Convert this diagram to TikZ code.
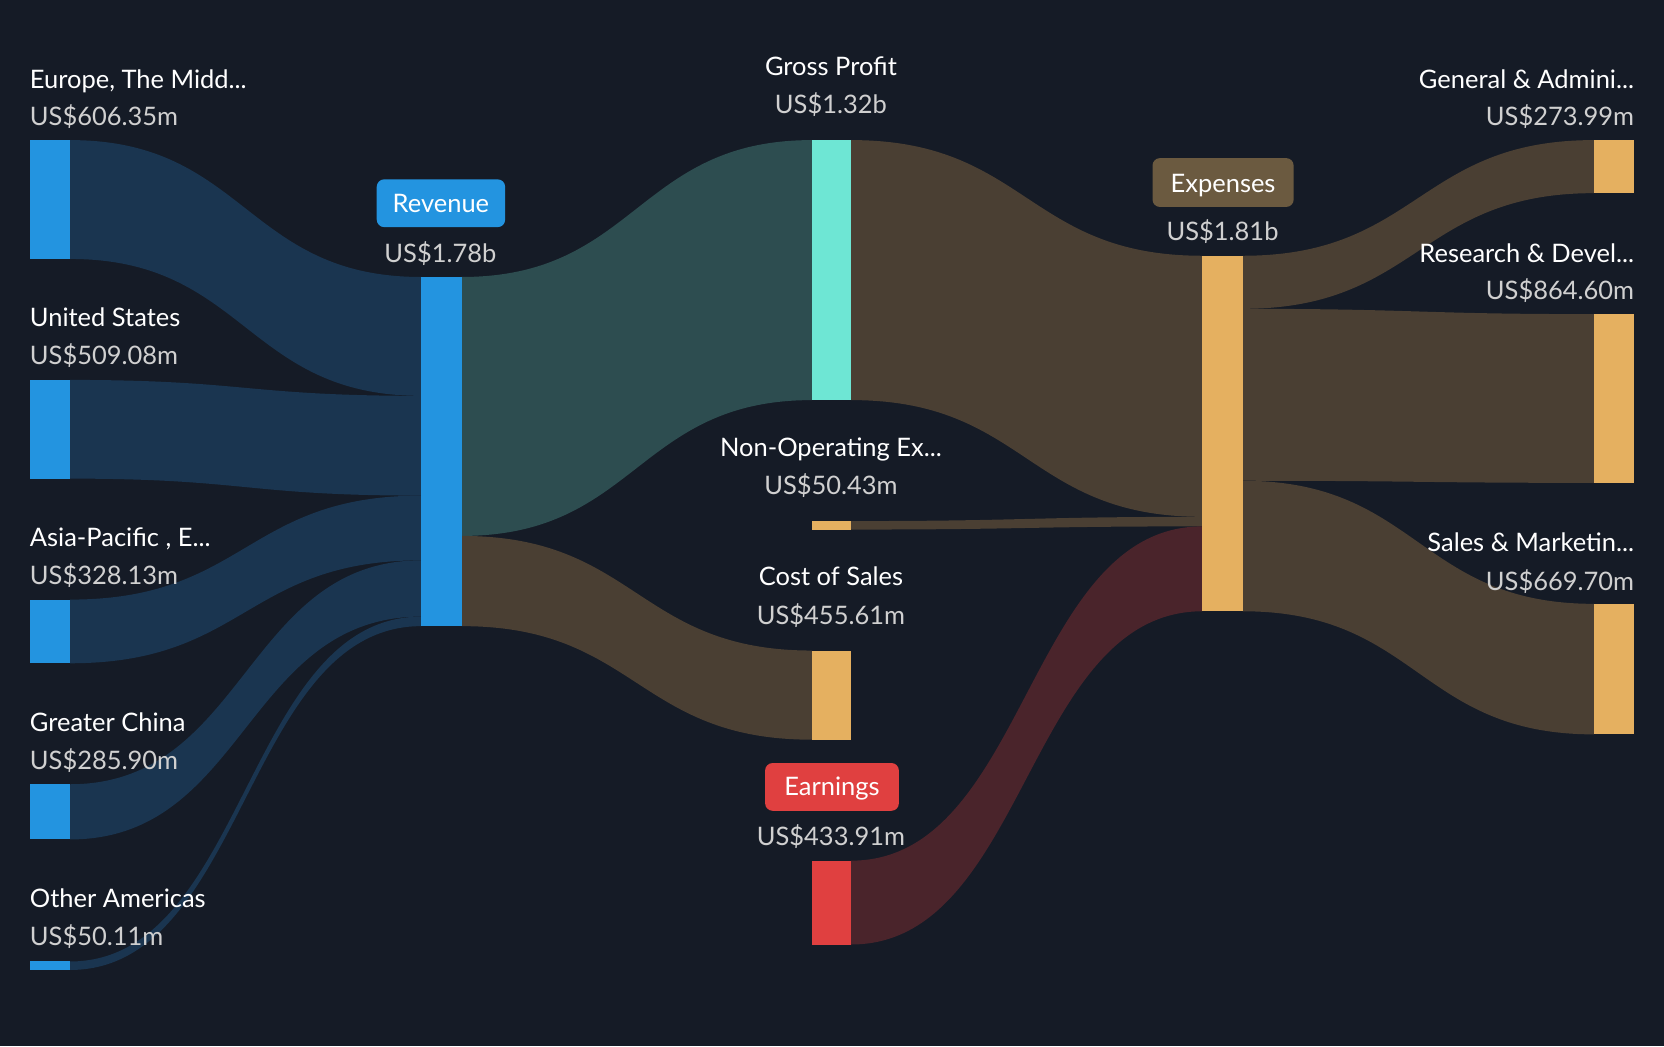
\documentclass[tikz,border=0pt]{standalone}
\usepackage{fontspec}
\setmainfont{Lato}
\definecolor{bg}{HTML}{151B26}
\definecolor{cblue}{HTML}{2394E0}
\definecolor{cteal}{HTML}{6EE6D4}
\definecolor{ctan}{HTML}{E5B060}
\definecolor{cred}{HTML}{E04040}
\definecolor{fblue}{HTML}{1A3550}
\definecolor{fteal}{HTML}{2D4D50}
\definecolor{fbrown}{HTML}{4A3F33}
\definecolor{fred}{HTML}{4A242B}
\definecolor{cbadge}{HTML}{6B5A40}
\definecolor{vgrey}{HTML}{D0D0D0}
\newcommand\myflow[7]{\fill[#1] (#2,#3) .. controls ({(#2+#5)/2},#3) and ({(#2+#5)/2},#6) .. (#5,#6) -- (#5,#7) .. controls ({(#2+#5)/2},#7) and ({(#2+#5)/2},#4) .. (#2,#4) -- cycle;}
\begin{document}
\begin{tikzpicture}[x=1pt,y=-1pt,
  lab/.style={font=\fontsize{24}{28}\selectfont, text=white, inner sep=0pt},
  val/.style={font=\fontsize{24}{28}\selectfont, text=vgrey, inner sep=0pt},
  badge/.style={font=\fontsize{24}{28}\selectfont, text=white, rounded corners=6pt, inner sep=0pt}]
\fill[bg] (0,0) rectangle (1568,986);
\useasboundingbox (0,0) rectangle (1568,986);
% flows
\myflow{fblue}{66}{132}{244}{397}{261}{373}
\myflow{fblue}{66}{358}{451}{397}{373}{467}
\myflow{fblue}{66}{565}{625}{397}{467}{528}
\myflow{fblue}{66}{739}{791}{397}{528}{581}
\myflow{fblue}{66}{906}{914}{397}{581}{590}
\myflow{fteal}{435}{261}{505}{765}{132}{377}
\myflow{fbrown}{435}{505}{590}{765}{613}{697}
\myflow{fbrown}{802}{132}{377}{1133}{241}{487}
\myflow{fbrown}{802}{491}{499}{1133}{487}{496}
\myflow{fred}{802}{811}{890}{1133}{496}{576}
\myflow{fbrown}{1171}{241}{291}{1502}{132}{182}
\myflow{fbrown}{1171}{291}{453}{1502}{296}{455}
\myflow{fbrown}{1171}{453}{576}{1502}{569}{692}
% bars
\fill[cblue] (28,132) rectangle (66,244);
\fill[cblue] (28,358) rectangle (66,451);
\fill[cblue] (28,565) rectangle (66,625);
\fill[cblue] (28,739) rectangle (66,791);
\fill[cblue] (28,906) rectangle (66,914);
\fill[cblue] (397,261) rectangle (435,590);
\fill[cteal] (765,132) rectangle (802,377);
\fill[ctan] (765,491) rectangle (802,499);
\fill[ctan] (765,613) rectangle (802,697);
\fill[cred] (765,811) rectangle (802,890);
\fill[ctan] (1133,241) rectangle (1171,576);
\fill[ctan] (1502,132) rectangle (1540,182);
\fill[ctan] (1502,296) rectangle (1540,455);
\fill[ctan] (1502,569) rectangle (1540,692);
% left labels
\node[lab,anchor=base west] (eu) at (28,83) {Europe, The Midd...};
\node[val,anchor=base west] (euv) at (28,118) {US\$606.35m};
\node[lab,anchor=base west] (us) at (28,308) {United States};
\node[val,anchor=base west] (usv) at (28,343) {US\$509.08m};
\node[lab,anchor=base west] (ap) at (28,515) {Asia-Pacific , E...};
\node[val,anchor=base west] (apv) at (28,551) {US\$328.13m};
\node[lab,anchor=base west] (gc) at (28,689) {Greater China};
\node[val,anchor=base west] (gcv) at (28,725) {US\$285.90m};
\node[lab,anchor=base west] (oa) at (28,855) {Other Americas};
\node[val,anchor=base west] (oav) at (28,891) {US\$50.11m};
% center labels
\fill[cblue,rounded corners=7pt] (355,169) rectangle (476,214);
\node[lab,anchor=base] (rev) at (415.5,200) {Revenue};
\node[val,anchor=base] (revv) at (415,247) {US\$1.78b};
\node[lab,anchor=base] (gp) at (783,71) {Gross Profit};
\node[val,anchor=base] (gpv) at (783,107) {US\$1.32b};
\node[lab,anchor=base] (no) at (783,430) {Non-Operating Ex...};
\node[val,anchor=base] (nov) at (783,466) {US\$50.43m};
\node[lab,anchor=base] (cs) at (783,552) {Cost of Sales};
\node[val,anchor=base] (csv) at (783,588) {US\$455.61m};
\fill[cred,rounded corners=7pt] (721,719) rectangle (847,764);
\node[lab,anchor=base] (ea) at (784,750) {Earnings};
\node[val,anchor=base] (eav) at (783,797) {US\$433.91m};
\fill[cbadge,rounded corners=7pt] (1086,149) rectangle (1219,195);
\node[lab,anchor=base] (ex) at (1152.5,181) {Expenses};
\node[val,anchor=base] (exv) at (1152,227) {US\$1.81b};
% right labels
\node[lab,anchor=base east] (ga) at (1540,83) {General \& Admini...};
\node[val,anchor=base east] (gav) at (1540,118) {US\$273.99m};
\node[lab,anchor=base east] (rd) at (1540,247) {Research \& Devel...};
\node[val,anchor=base east] (rdv) at (1540,282) {US\$864.60m};
\node[lab,anchor=base east] (sm) at (1540,520) {Sales \& Marketin...};
\node[val,anchor=base east] (smv) at (1540,556) {US\$669.70m};
\end{tikzpicture}
\end{document}
